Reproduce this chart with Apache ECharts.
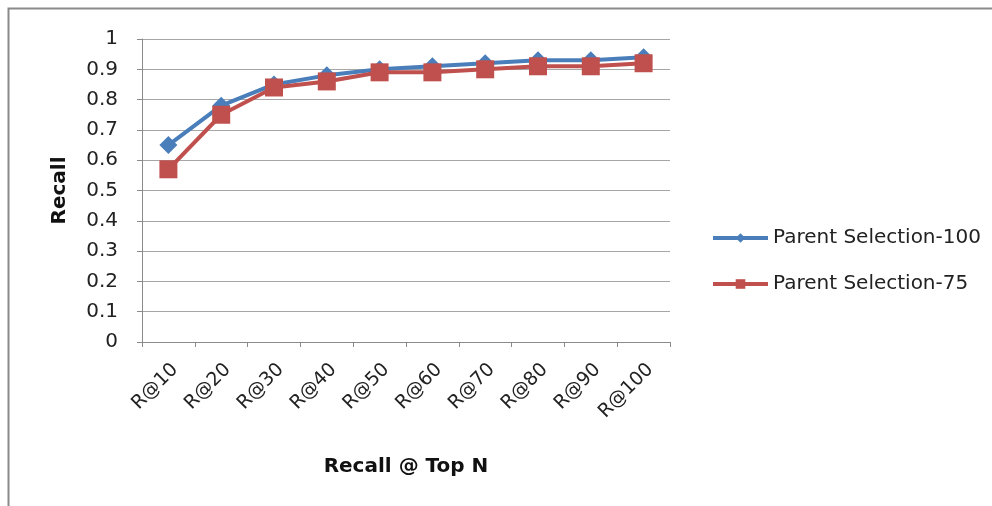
<!DOCTYPE html>
<html>
<head>
<meta charset="utf-8">
<script src="https://cdn.jsdelivr.net/npm/echarts@6/dist/echarts.min.js"></script>
<style>
  html, body { margin: 0; padding: 0; background: #fff; }
  #chart { width: 992px; height: 506px; }
</style>
</head>
<body>
<div id="chart"></div>
<script>
// Recall at the top N results for two parent-selection settings
const categories = ['R@10', 'R@20', 'R@30', 'R@40', 'R@50', 'R@60', 'R@70', 'R@80', 'R@90', 'R@100'];
const parentSel100 = [0.65, 0.78, 0.85, 0.88, 0.90, 0.91, 0.92, 0.93, 0.93, 0.94];
const parentSel75  = [0.57, 0.75, 0.84, 0.86, 0.89, 0.89, 0.90, 0.91, 0.91, 0.92];
const seriesNames = ['Parent Selection-100', 'Parent Selection-75'];

const FONT = 'DejaVu Sans';
const chart = echarts.init(document.getElementById('chart'), null, { renderer: 'canvas' });

chart.setOption({
  backgroundColor: '#ffffff',
  animation: false,
  textStyle: { fontFamily: FONT },
  graphic: [{
    type: 'rect',
    shape: { x: 8.5, y: 8.5, width: 1100, height: 600 },
    style: { fill: 'none', stroke: '#8a8a8a', lineWidth: 2 },
    silent: true
  }],
  grid: { left: 142, right: 322, top: 39, bottom: 164, containLabel: false },
  legend: {
    orient: 'vertical',
    left: 711,
    top: 228,
    padding: 0,
    itemWidth: 55,
    itemHeight: 12,
    itemGap: 26,
    lineStyle: { width: 4 },
    textStyle: { fontFamily: FONT, fontSize: 20, color: '#222' },
    data: seriesNames
  },
  xAxis: {
    type: 'category',
    data: categories,
    boundaryGap: true,
    name: 'Recall @ Top N',
    nameLocation: 'middle',
    nameGap: 115,
    nameTextStyle: { fontFamily: FONT, fontSize: 20, fontWeight: 'bold', color: '#111' },
    axisLine: { lineStyle: { color: '#8a8a8a', width: 1 } },
    axisTick: { show: true, length: 5, lineStyle: { color: '#8a8a8a' } },
    axisLabel: {
      rotate: 45, fontSize: 19, color: '#222', margin: 18, interval: 0,
      verticalAlign: 'top', fontFamily: FONT
    }
  },
  yAxis: {
    type: 'value',
    min: 0, max: 1, interval: 0.1,
    name: 'Recall',
    nameLocation: 'middle',
    nameRotate: 90,
    nameGap: 72,
    nameTextStyle: { fontFamily: FONT, fontSize: 20, fontWeight: 'bold', color: '#111' },
    axisLine: { show: true, lineStyle: { color: '#8a8a8a', width: 1 } },
    axisTick: { show: true, length: 5, lineStyle: { color: '#8a8a8a' } },
    axisLabel: {
      fontSize: 20, color: '#222', margin: 24, fontFamily: FONT,
      formatter: v => String(Math.round(v * 10) / 10)
    },
    splitLine: { show: true, lineStyle: { color: '#a6a6a6', width: 1 } }
  },
  series: [
    {
      name: seriesNames[0],
      type: 'line',
      data: parentSel100,
      symbol: 'diamond',
      symbolSize: 18,
      color: '#4a7ebb',
      lineStyle: { width: 4, color: '#4a7ebb' },
      itemStyle: { color: '#4a7ebb' },
      z: 2
    },
    {
      name: seriesNames[1],
      type: 'line',
      data: parentSel75,
      symbol: 'rect',
      symbolSize: 18,
      color: '#c0504d',
      lineStyle: { width: 4, color: '#c0504d' },
      itemStyle: { color: '#c0504d' },
      z: 3
    }
  ]
});
</script>
</body>
</html>
